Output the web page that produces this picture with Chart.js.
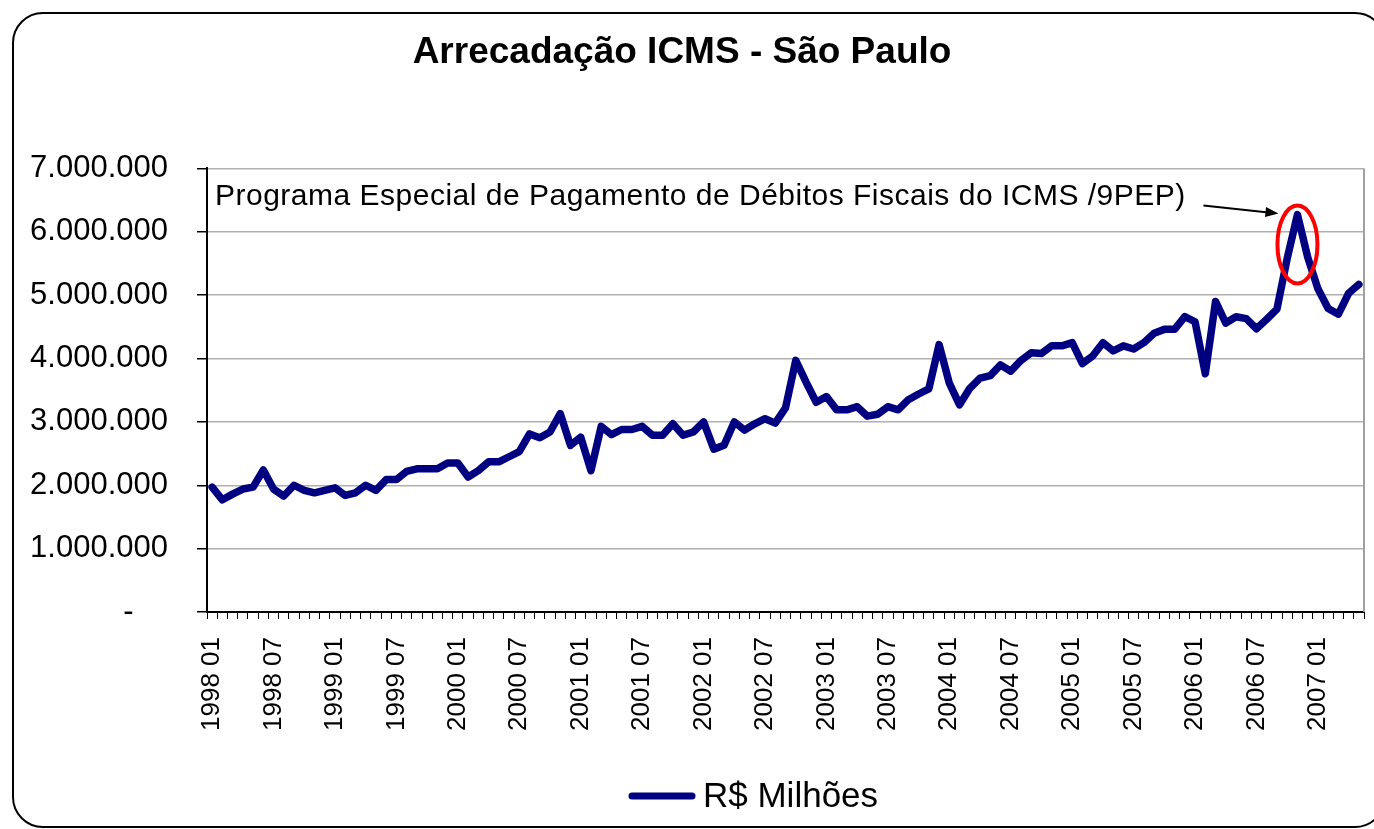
<!DOCTYPE html>
<html>
<head>
<meta charset="utf-8">
<script src="https://cdn.jsdelivr.net/npm/chart.js@4"></script>
<style>
  html, body { margin: 0; padding: 0; background: #fff; }
  #wrap { width: 1374px; height: 829px; }
</style>
</head>
<body>
<div id="wrap"><canvas id="icmsChart"></canvas></div>
<script>
// Monthly categories, Jan 1998 to May 2007
const startYear = 1998;
const monthCount = 113;
const months = [];
for (let i = 0; i < monthCount; i++) {
    const y = startYear + Math.floor(i / 12);
    const m = String((i % 12) + 1).padStart(2, '0');
    months.push(y + ' ' + m);
}

// ICMS collection
const arrecadacao = [
    1970000, 1770000, 1860000, 1940000, 1970000, 2240000, 1940000, 1830000, 2000000, 1920000, 1880000, 1920000,
    1960000, 1840000, 1880000, 2000000, 1920000, 2090000, 2090000, 2220000, 2260000, 2260000, 2260000, 2350000,
    2350000, 2130000, 2230000, 2370000, 2370000, 2450000, 2530000, 2810000, 2750000, 2840000, 3130000, 2630000,
    2760000, 2230000, 2930000, 2800000, 2880000, 2880000, 2930000, 2790000, 2790000, 2970000, 2790000, 2840000,
    3000000, 2570000, 2630000, 3000000, 2870000, 2970000, 3050000, 2980000, 3220000, 3970000, 3630000, 3310000,
    3400000, 3190000, 3190000, 3240000, 3090000, 3120000, 3240000, 3190000, 3350000, 3440000, 3520000, 4220000,
    3610000, 3270000, 3530000, 3690000, 3730000, 3900000, 3800000, 3970000, 4090000, 4080000, 4200000, 4200000,
    4250000, 3920000, 4040000, 4250000, 4120000, 4200000, 4150000, 4250000, 4400000, 4460000, 4460000, 4660000,
    4580000, 3760000, 4900000, 4560000, 4660000, 4630000, 4470000, 4620000, 4780000, 5580000, 6270000, 5600000,
    5100000, 4790000, 4700000, 5030000, 5170000
];

const yTicks = [0, 1000000, 2000000, 3000000, 4000000, 5000000, 6000000, 7000000];

const chartTitle = 'Arrecadação ICMS - São Paulo';
const seriesName = 'R$ Milhões';
const noteText = 'Programa Especial de Pagamento de Débitos Fiscais do ICMS /9PEP)';

const FONT = '"Liberation Sans", Arial, sans-serif';

function fmt(v) {
    if (v === 0) return '-    ';
    return String(v).replace(/\B(?=(\d{3})+(?!\d))/g, '.');
}

// frame, annotation (text, arrow, ellipse) and legend
const decorations = {
    id: 'decorations',
    beforeDraw(chart) {
        const ctx = chart.ctx;
        ctx.save();
        ctx.fillStyle = '#fff';
        ctx.fillRect(0, 0, chart.width, chart.height);
        ctx.beginPath();
        ctx.roundRect(13, 13, 1372, 814, 30);
        ctx.strokeStyle = '#000';
        ctx.lineWidth = 2;
        ctx.stroke();
        ctx.restore();
    },
    afterDatasetsDraw(chart) {
        const ctx = chart.ctx;
        const area = chart.chartArea;
        const xs = chart.scales.x, ys = chart.scales.y;
        ctx.save();

        // right border of plot area
        ctx.strokeStyle = '#a0a0a0';
        ctx.lineWidth = 2;
        ctx.beginPath();
        ctx.moveTo(area.right, area.top);
        ctx.lineTo(area.right, area.bottom);
        ctx.stroke();

        // red ellipse around the peak
        const peak = arrecadacao.indexOf(Math.max(...arrecadacao));
        const cx = xs.getPixelForValue(peak);
        const cy = ys.getPixelForValue(5800000);
        ctx.strokeStyle = '#ff0000';
        ctx.lineWidth = 4;
        ctx.beginPath();
        ctx.ellipse(cx, cy, 20, 39, 0, 0, Math.PI * 2);
        ctx.stroke();

        // note text
        ctx.fillStyle = '#000';
        ctx.font = '30px ' + FONT;
        ctx.letterSpacing = '0.5px';
        ctx.textBaseline = 'alphabetic';
        ctx.textAlign = 'left';
        ctx.fillText(noteText, area.left + 8, area.top + 37);
        ctx.letterSpacing = '0px';

        // arrow
        const x1 = cx - 94, y1 = cy - 39;
        const x2 = cx - 19, y2 = cy - 31;
        ctx.strokeStyle = '#000';
        ctx.lineWidth = 2;
        ctx.beginPath();
        ctx.moveTo(x1, y1);
        ctx.lineTo(x2 - 10, y2 - 1);
        ctx.stroke();
        const ang = Math.atan2(y2 - y1, x2 - x1);
        ctx.beginPath();
        ctx.moveTo(x2, y2);
        ctx.lineTo(x2 - 13 * Math.cos(ang) + 5 * Math.sin(ang), y2 - 13 * Math.sin(ang) - 5 * Math.cos(ang));
        ctx.lineTo(x2 - 13 * Math.cos(ang) - 5 * Math.sin(ang), y2 - 13 * Math.sin(ang) + 5 * Math.cos(ang));
        ctx.closePath();
        ctx.fill();
        ctx.restore();
    },
    afterDraw(chart) {
        const ctx = chart.ctx;
        const ds = chart.data.datasets[0];
        ctx.save();
        ctx.strokeStyle = ds.borderColor;
        ctx.lineWidth = 7;
        ctx.lineCap = 'round';
        ctx.beginPath();
        ctx.moveTo(632, 796);
        ctx.lineTo(692, 796);
        ctx.stroke();
        ctx.fillStyle = '#000';
        ctx.font = '35px ' + FONT;
        ctx.textBaseline = 'middle';
        ctx.textAlign = 'left';
        ctx.fillText(ds.label, 703, 797);
        ctx.restore();
    }
};

const ctx = document.getElementById('icmsChart').getContext('2d');

const config = {
    type: 'line',
    data: {
        labels: months,
        datasets: [{
            label: seriesName,
            data: arrecadacao,
            borderColor: '#000080',
            borderWidth: 7.5,
            borderJoinStyle: 'round',
            borderCapStyle: 'round',
            pointRadius: 0,
            tension: 0,
            fill: false
        }]
    },
    options: {
        responsive: true,
        maintainAspectRatio: false,
        animation: false,
        layout: { padding: { left: 0, right: 10, top: 0, bottom: 0 } },
        scales: {
            x: {
                type: 'category',
                offset: true,
                grid: {
                    offset: true,
                    drawOnChartArea: false,
                    drawTicks: true,
                    tickLength: 7,
                    tickColor: '#000',
                    lineWidth: 1
                },
                border: { color: '#000', width: 2 },
                ticks: {
                    autoSkip: false,
                    maxRotation: 90,
                    minRotation: 90,
                    padding: 18,
                    color: '#000',
                    font: { family: FONT, size: 26 },
                    callback: (v, i) => (i % 6 === 0 ? months[i] : '')
                },
                afterFit: s => { s.height = 217; s.paddingLeft = 0; s.paddingRight = 0; }
            },
            y: {
                min: 0,
                max: 7000000,
                afterBuildTicks: s => { s.ticks = yTicks.map(v => ({ value: v })); },
                grid: {
                    color: '#b0b0b0',
                    lineWidth: 1.5,
                    tickLength: 10,
                    tickColor: '#000'
                },
                border: { color: '#000', width: 2 },
                ticks: {
                    padding: 29,
                    color: '#000',
                    font: { family: FONT, size: 31 },
                    callback: v => fmt(v)
                },
                afterFit: s => { s.width = 207; }
            }
        },
        plugins: {
            title: {
                display: true,
                text: chartTitle,
                color: '#000',
                font: { family: FONT, size: 37, weight: 'bold' },
                padding: { top: 31, bottom: 93 }
            },
            legend: { display: false },
            tooltip: { enabled: false }
        }
    },
    plugins: [decorations]
};

const icmsChart = new Chart(ctx, config);
</script>
</body>
</html>
